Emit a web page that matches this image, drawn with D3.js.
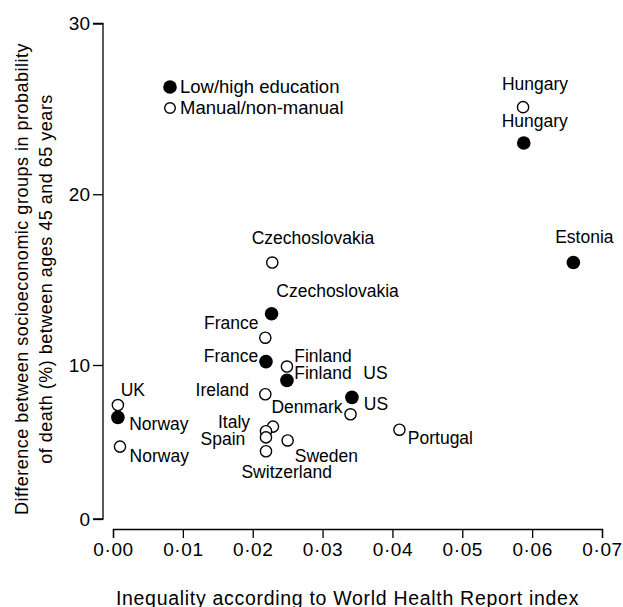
<!DOCTYPE html>
<html>
<head>
<meta charset="utf-8">
<script src="https://cdn.jsdelivr.net/npm/d3@7"></script>
<style>
  html, body { margin: 0; padding: 0; background: #fff; }
  svg { display: block; font-family: "Liberation Sans", Arial, sans-serif; }
</style>
</head>
<body>
<svg id="chart" width="623" height="607"></svg>
<script>
// ---- Data ----
const seriesNames = ["Low/high education", "Manual/non-manual"];

const eduCountries = ["Hungary", "Estonia", "Czechoslovakia", "France", "Finland", "US", "Norway"];
const eduX = [0.0588, 0.0659, 0.0227, 0.0219, 0.0249, 0.0342, 0.0007];
const eduY = [23.0, 16.0, 13.0, 10.2, 9.0, 7.9, 6.6];

const manCountries = ["Hungary", "Czechoslovakia", "France", "Finland", "Ireland", "US", "UK", "Norway",
                      "Denmark", "Italy", "Spain", "Sweden", "Switzerland", "Portugal"];
const manX = [0.0587, 0.0228, 0.0218, 0.0249, 0.0218, 0.0340, 0.0007, 0.0010,
              0.0229, 0.0219, 0.0219, 0.0250, 0.0219, 0.0410];
const manY = [25.1, 16.0, 11.6, 9.9, 8.1, 6.8, 7.4, 4.7,
              6.0, 5.7, 5.3, 5.1, 4.4, 5.8];

const xTicks = [0, 0.01, 0.02, 0.03, 0.04, 0.05, 0.06, 0.07];
const xTickLabels = ["0·00", "0·01", "0·02", "0·03", "0·04", "0·05", "0·06", "0·07"];
const yTicks = [0, 10, 20, 30];
const yTickLabels = ["0", "10", "20", "30"];

const xTitle = "Inequality according to World Health Report index";
const yTitleLines = ["Difference between socioeconomic groups in probability",
                     "of death (%) between ages 45 and 65 years"];

// ---- Label placement (pixel offsets of label centre from point) ----
const eduLabelOffsets = [[11, -22.4], [11, -25.2], [66, -23], [-35, -6], [36, -7.7], [23.5, -24], [41, 6.5]];
const manLabelOffsets = [[12, -23.2], [40.7, -24.4], [-34, -14.8], [36, -10.6], [-43, -4.4], [25.4, -10],
                         [15, -15.4], [39.3, 9.6], [34, -19.9], [-32, -9], [-43, 1.6], [38.7, 15.7],
                         [20.7, 20.8], [41, 8.5]];

// ---- Layout ----
const svg = d3.select("#chart");
const x = d3.scaleLinear().domain([0, 0.07]).range([113, 602]);
const y = d3.scaleLinear().domain([0, 10, 30]).range([519, 365, 23.5]);

const labelFont = 17.5;
const tickFont = 18.5;

// Y axis
const yAxis = d3.axisLeft(y).tickValues(yTicks).tickSize(10).tickPadding(3)
  .tickFormat((d, i) => yTickLabels[i]);
const gy = svg.append("g").attr("transform", "translate(103,0)").call(yAxis);
gy.select(".domain").attr("d", `M-10,${y(30)}H0V${y(0)}H-10`).attr("stroke", "#000").attr("stroke-width", 1.3);
gy.selectAll(".tick line").attr("stroke", "#000").attr("stroke-width", 1.3);
gy.selectAll(".tick text").attr("font-size", 19).attr("fill", "#000")
  .attr("font-family", '"Liberation Sans", Arial, sans-serif');

// X axis
const xAxis = d3.axisBottom(x).tickValues(xTicks).tickSize(9).tickPadding(5)
  .tickFormat((d, i) => xTickLabels[i]);
const gx = svg.append("g").attr("transform", "translate(0,529)").call(xAxis);
gx.select(".domain").attr("stroke", "#000").attr("stroke-width", 1.3);
gx.selectAll(".tick line").attr("stroke", "#000").attr("stroke-width", 1.3);
gx.selectAll(".tick text").attr("font-size", 19).attr("fill", "#000")
  .attr("letter-spacing", "0.6px")
  .attr("font-family", '"Liberation Sans", Arial, sans-serif');

// Axis titles
svg.append("text").attr("x", 347.5).attr("y", 598).attr("dy", "0.35em")
  .attr("text-anchor", "middle").attr("font-size", 19.5).attr("letter-spacing", "0.7px").text(xTitle);

const yt = svg.append("g").attr("transform", "translate(0,279) rotate(-90)");
yTitleLines.forEach((t, i) => {
  yt.append("text").attr("x", 0).attr("y", 22 + i * 24).attr("dy", "0.35em")
    .attr("text-anchor", "middle").attr("font-size", 18).attr("letter-spacing", "0.5px").text(t);
});

// Points
const eduData = eduCountries.map((c, i) => ({ c, x: eduX[i], y: eduY[i], o: eduLabelOffsets[i] }));
const manData = manCountries.map((c, i) => ({ c, x: manX[i], y: manY[i], o: manLabelOffsets[i] }));

svg.append("g").selectAll("circle").data(manData).join("circle")
  .attr("cx", d => x(d.x)).attr("cy", d => y(d.y)).attr("r", 5.6)
  .attr("fill", "#fff").attr("stroke", "#000").attr("stroke-width", 1.4);

svg.append("g").selectAll("circle").data(eduData).join("circle")
  .attr("cx", d => x(d.x)).attr("cy", d => y(d.y)).attr("r", 6.8)
  .attr("fill", "#000");

// Labels
const labels = svg.append("g").attr("font-size", labelFont).attr("text-anchor", "middle");
labels.selectAll("text.m").data(manData).join("text").attr("class", "m")
  .attr("x", d => x(d.x) + d.o[0]).attr("y", d => y(d.y) + d.o[1]).attr("dy", "0.35em").text(d => d.c);
labels.selectAll("text.e").data(eduData).join("text").attr("class", "e")
  .attr("x", d => x(d.x) + d.o[0]).attr("y", d => y(d.y) + d.o[1]).attr("dy", "0.35em").text(d => d.c);

// Legend
const legend = svg.append("g").attr("transform", "translate(170,87)");
legend.append("circle").attr("cx", 0).attr("cy", 0).attr("r", 6.8).attr("fill", "#000");
legend.append("circle").attr("cx", 0).attr("cy", 21).attr("r", 5.3)
  .attr("fill", "#fff").attr("stroke", "#000").attr("stroke-width", 1.4);
legend.selectAll("text").data(seriesNames).join("text")
  .attr("x", 10).attr("y", (d, i) => i * 21).attr("dy", "0.35em")
  .attr("font-size", 18.5).text(d => d);
</script>
</body>
</html>
